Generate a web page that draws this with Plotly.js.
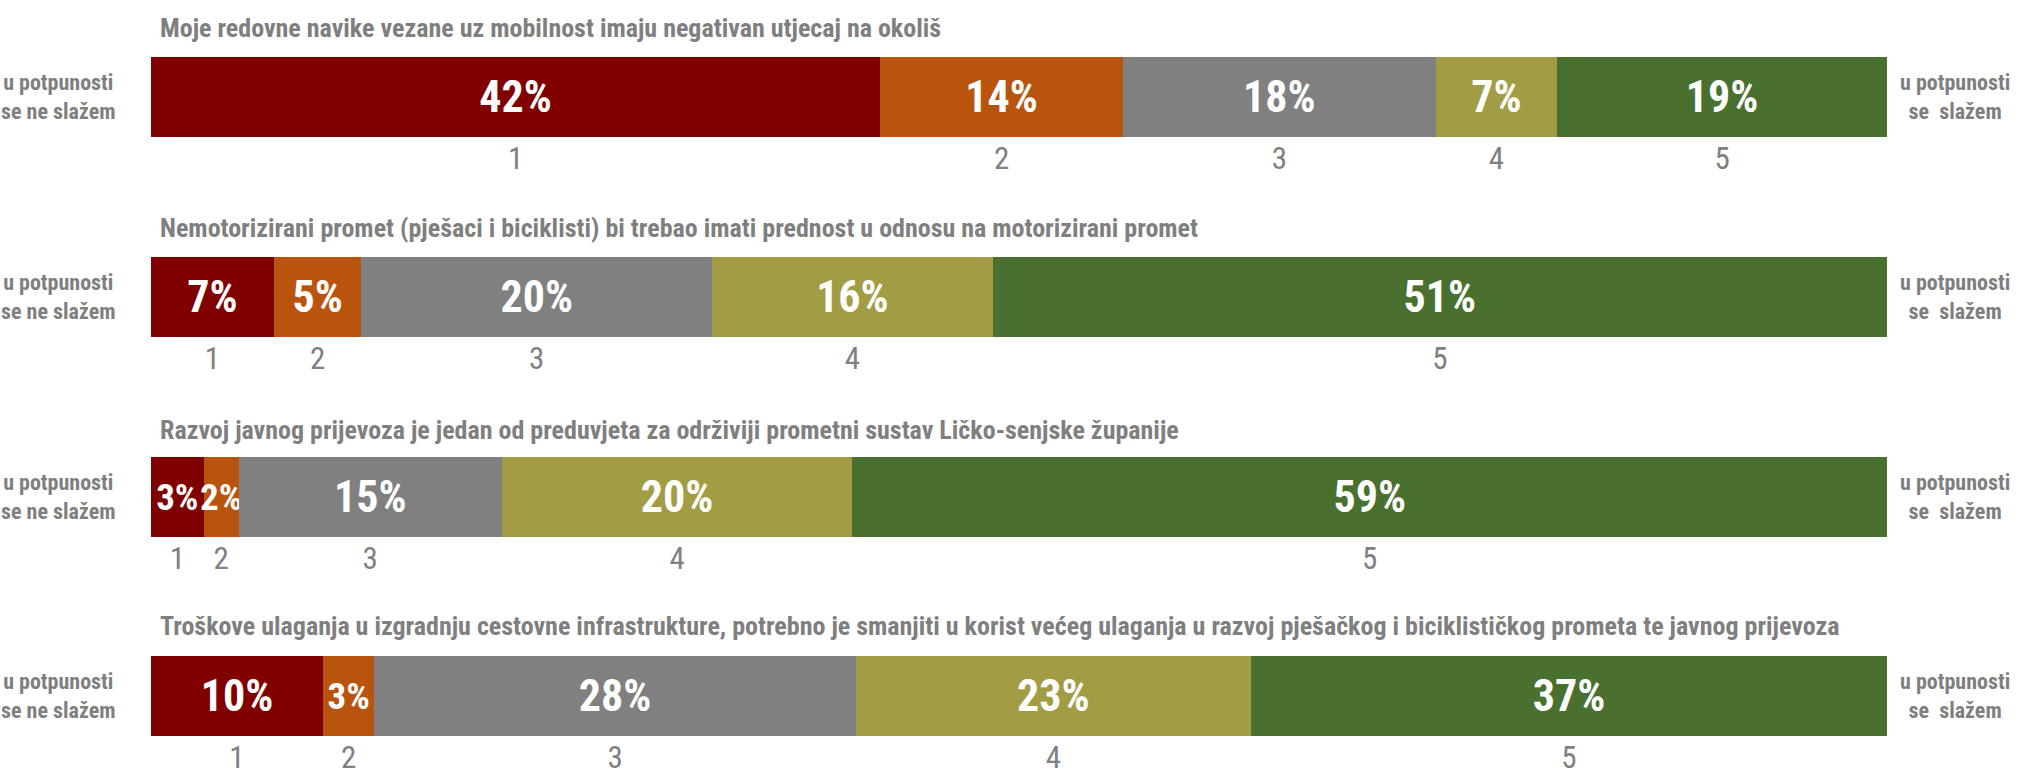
<!DOCTYPE html>
<html>
<head>
<meta charset="utf-8">
<script src="https://cdn.plot.ly/plotly-3.0.1.min.js"></script>
<style>html,body{margin:0;padding:0;background:#fff;}#chart{width:2020px;height:781px;}</style>
</head>
<body>
<div id="chart"></div>
<script>
const questions = [
  "Moje redovne navike vezane uz mobilnost imaju negativan utjecaj na okoliš",
  "Nemotorizirani promet (pješaci i biciklisti) bi trebao imati prednost u odnosu na motorizirani promet",
  "Razvoj javnog prijevoza je jedan od preduvjeta za održiviji prometni sustav Ličko-senjske županije",
  "Troškove ulaganja u izgradnju cestovne infrastrukture, potrebno je smanjiti u korist većeg ulaganja u razvoj pješačkog i biciklističkog prometa te javnog prijevoza"
];
const levels = ["1", "2", "3", "4", "5"];
const q1 = [42, 14, 18, 7, 19];
const q2 = [7, 5, 20, 16, 51];
const q3 = [3, 2, 15, 20, 59];
const q4 = [10, 3, 28, 23, 37];
const leftLabel = "u potpunosti<br>se ne slažem";
const rightLabel = "u potpunosti<br>se\u00a0\u00a0slažem";

const allData = [q1, q2, q3, q4];
const colors = ["#800000", "#B9540F", "#808080", "#A29D45", "#4A7030"];
const FONT = "'Roboto Condensed', 'Open Sans Condensed', sans-serif";
const W = 2020, H = 781;
const xdom = [151 / W, 1887 / W];
const plotW = (xdom[1] - xdom[0]) * W;
const barTop = [57, 257, 457, 656];
const barH = 80;
const titleY = [28, 228, 430, 626];

const traces = [];
const layout = {
  width: W, height: H,
  margin: {l: 0, r: 0, t: 0, b: 0},
  paper_bgcolor: "#fff", plot_bgcolor: "#fff",
  barmode: "stack", bargap: 0,
  showlegend: false,
  font: {family: FONT, color: "#808080"},
  annotations: []
};

allData.forEach((vals, qi) => {
  const n = qi + 1;
  const xa = "x" + (n === 1 ? "" : n);
  const ya = "y" + (n === 1 ? "" : n);
  const total = vals.reduce((a, b) => a + b, 0);
  const mids = [];
  let cum = 0;
  vals.forEach(v => { mids.push(cum + v / 2); cum += v; });
  vals.forEach((v, li) => {
    const segPx = v / total * plotW;
    traces.push({
      type: "bar", orientation: "h",
      x: [v], y: [0],
      xaxis: xa, yaxis: ya,
      marker: {color: colors[li], line: {width: 0}},
      text: [v + "%"],
      textposition: "inside",
      insidetextanchor: "middle",
      textangle: 0,
      constraintext: "none",
      textfont: {family: FONT, size: segPx < 60 ? 37 : 44, color: "#ffffff", weight: "bold"},
      hoverinfo: "skip"
    });
  });
  const top = barTop[qi];
  layout["xaxis" + (n === 1 ? "" : n)] = {
    domain: xdom, range: [0, total], anchor: ya,
    tickvals: mids, ticktext: levels,
    ticks: "",
    showgrid: false, zeroline: false, showline: false,
    tickfont: {family: FONT, size: 31, color: "#808080"},
    fixedrange: true
  };
  layout["yaxis" + (n === 1 ? "" : n)] = {
    domain: [1 - (top + barH) / H, 1 - top / H],
    range: [-0.5, 0.5], anchor: xa, visible: false, fixedrange: true
  };
  const yc = 1 - (top + barH / 2) / H;
  layout.annotations.push({
    xref: "paper", yref: "paper", x: 158 / W, y: 1 - titleY[qi] / H,
    xanchor: "left", yanchor: "middle", showarrow: false,
    text: questions[qi],
    font: {family: FONT, size: 26, color: "#7F7F7F", weight: "bold"}
  });
  layout.annotations.push({
    xref: "paper", yref: "paper", x: 58 / W, y: yc,
    xanchor: "center", yanchor: "middle", showarrow: false,
    text: leftLabel, align: "center",
    font: {family: FONT, size: 22, color: "#7F7F7F", weight: "bold"}
  });
  layout.annotations.push({
    xref: "paper", yref: "paper", x: 1955 / W, y: yc,
    xanchor: "center", yanchor: "middle", showarrow: false,
    text: rightLabel, align: "center",
    font: {family: FONT, size: 22, color: "#7F7F7F", weight: "bold"}
  });
});

Plotly.newPlot("chart", traces, layout, {displayModeBar: false, staticPlot: true});
</script>
</body>
</html>
